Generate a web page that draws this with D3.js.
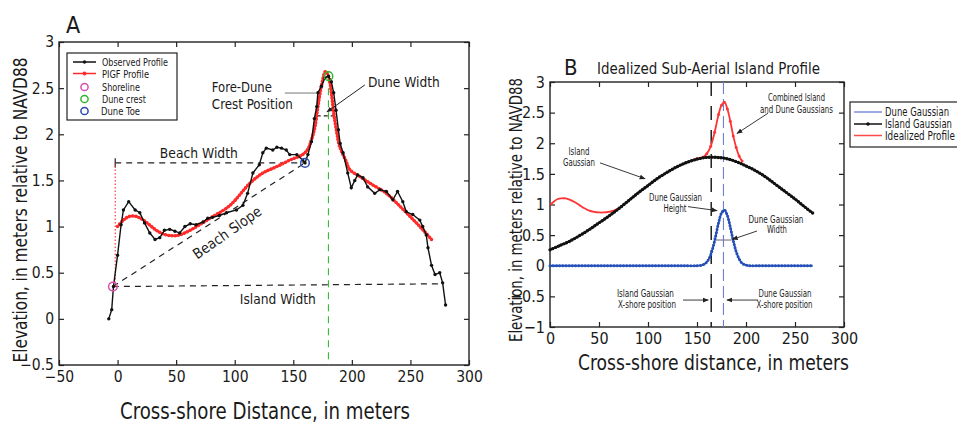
<!DOCTYPE html>
<html><head><meta charset="utf-8">
<script src="https://cdn.jsdelivr.net/npm/d3@7"></script>
<style>
html,body{margin:0;padding:0;background:#fff;overflow:hidden}
svg{display:block}
text{font-family:'Liberation Sans Narrow','DejaVu Sans Condensed','Roboto Condensed','Liberation Sans',Arial,sans-serif;fill:#1a1a1a}
</style></head><body>
<svg id="fig" width="957" height="423"></svg>
<script>
// ---------- Panel A: surveyed profile and its PIGF fit ----------
const observedProfile = [
  [-7.5,0.00],[-5,0.10],[-3.5,0.35],[0,0.69],[3,1.02],[5,1.18],[9.5,1.27],[15,1.18],[19,1.15],[23,1.04],
  [27.5,0.93],[32,0.86],[36,0.88],[40,0.96],[44.5,0.97],[49,0.95],[53,0.93],[57.5,1.00],[62,1.03],[67,1.02],
  [73,1.05],[77,1.09],[81,1.10],[87,1.12],[93,1.15],[101.5,1.18],[107,1.23],[111,1.36],[115.5,1.58],[121,1.67],
  [124,1.80],[127,1.85],[132.5,1.83],[136,1.86],[140,1.85],[144,1.83],[147,1.78],[153,1.78],[158,1.72],[160,1.69],
  [162.5,1.78],[165.5,1.92],[168,2.17],[170,2.30],[171,2.45],[174,2.52],[177,2.61],[180,2.63],[182.5,2.57],[184.5,2.45],
  [186.5,2.26],[188.5,2.05],[190,1.90],[192.5,1.80],[196.5,1.58],[199.5,1.42],[202.5,1.50],[205,1.56],[209.5,1.53],[213.5,1.43],
  [219.5,1.36],[224,1.40],[229.5,1.38],[235,1.29],[239,1.38],[243.5,1.27],[246.5,1.16],[252,1.13],[258,1.07],[260.5,1.00],
  [263.5,0.91],[265,0.77],[268,0.58],[271,0.48],[275,0.50],[277.5,0.39],[280,0.15]
];
const pigfProfile = [
  [0,1.00],[5,1.07],[10,1.11],[16,1.11],[22,1.07],[28,1.01],[33,0.96],[39,0.92],[46,0.90],[53,0.91],
  [62,0.96],[70,1.02],[79,1.09],[96,1.23],[113,1.47],[124,1.58],[136,1.65],[147,1.72],[158,1.78],[162.5,1.84],
  [165.5,1.94],[168.5,2.08],[171,2.30],[174,2.52],[177.5,2.68],[180,2.63],[182.5,2.45],[184.5,2.23],[187,2.03],[189.5,1.87],
  [195,1.71],[198,1.62],[207,1.54],[218,1.45],[229.5,1.36],[241,1.22],[252,1.08],[261,0.96],[268,0.86]
];
const shoreline = [-4, 0.35];
const duneCrest = [180, 2.63];
const duneToe = [160, 1.69];
const islandWidthEnd = [276.5, 0.38];
const duneWidthSpan = [170, 184, 2.2];
const ticksAx = [-50, 0, 50, 100, 150, 200, 250, 300];
const ticksAy = [-0.5, 0, 0.5, 1, 1.5, 2, 2.5, 3];
const legendA = ["Observed Profile", "PIGF Profile", "Shoreline", "Dune crest", "Dune Toe"];

// ---------- Panel B: idealized island built from two Gaussians ----------
const islandGaussX = [0,10,20,30,40,50,60,70,80,90,100,110,120,130,140,150,160,170,180,190,200,210,220,230,240,250,260,268];
const islandGaussY = [0.26,0.33,0.40,0.49,0.59,0.70,0.81,0.93,1.06,1.19,1.31,1.43,1.53,1.62,1.69,1.74,1.77,1.77,1.75,1.70,1.63,1.55,1.45,1.33,1.21,1.09,0.96,0.86];
const duneGaussX = [0,10,20,30,40,50,60,70,80,90,100,110,120,130,140,150,156,160,164,168,172,175,178,181,184,187,190,193,196,200,204,210,220,230,240,250,260,268];
const duneGaussY = [0,0,0,0,0,0,0,0,0,0,0,0,0,0,0,0,0.015,0.06,0.18,0.41,0.70,0.86,0.91,0.82,0.63,0.41,0.23,0.11,0.04,0.01,0,0,0,0,0,0,0,0];
const idealX = [0,4,8,12,16,20,25,30,35,40,45,50,55,60,65,70,80,90,100,110,120,130,140,150,156,160,164,168,172,175,178,181,184,187,190,193,196];
const idealY = [0.99,1.05,1.09,1.10,1.10,1.08,1.04,0.99,0.94,0.90,0.88,0.87,0.87,0.88,0.90,0.94,1.06,1.19,1.31,1.43,1.53,1.62,1.69,1.75,1.77,1.83,1.95,2.18,2.47,2.62,2.67,2.56,2.36,2.12,1.93,1.79,1.71];
const islandCenterX = 164.5;
const duneCenterX = 177;
const duneHalfWidth = [169.4, 185.4, 0.42];
const ticksBx = [0, 50, 100, 150, 200, 250, 300];
const ticksBy = [-1, -0.5, 0, 0.5, 1, 1.5, 2, 2.5, 3];
const legendB = ["Dune Gaussian", "Island Gaussian", "Idealized Profile"];

const svg = d3.select("#fig");
const defs = svg.append("defs");
defs.append("marker").attr("id", "arrow").attr("viewBox", "0 0 10 10")
  .attr("refX", 9).attr("refY", 5).attr("markerWidth", 6).attr("markerHeight", 6)
  .attr("markerUnits", "userSpaceOnUse").attr("orient", "auto")
  .append("path").attr("d", "M0,1L10,5L0,9Z").attr("fill", "#222");

function txt(g, s, x, y, size, o = {}) {
  const t = g.append("text").attr("x", x).attr("y", y).attr("font-size", size).text(s);
  if (o.anchor) t.attr("text-anchor", o.anchor);
  if (o.len) t.attr("textLength", o.len).attr("lengthAdjust", "spacingAndGlyphs");
  if (o.rotate !== undefined) t.attr("transform", `rotate(${o.rotate},${x},${y})`);
  if (o.fill) t.style("fill", o.fill);
  return t;
}

function boxAxes(g, x, y, tx, ty, fontSize) {
  const fmt = d3.format("");
  const [x0, x1] = x.range(), [y0, y1] = y.range();
  g.append("g").attr("transform", `translate(0,${y0})`)
    .call(d3.axisBottom(x).tickValues(tx).tickFormat(fmt).tickSizeInner(-5).tickSizeOuter(0).tickPadding(6));
  g.append("g").attr("transform", `translate(${x0},0)`)
    .call(d3.axisLeft(y).tickValues(ty).tickFormat(fmt).tickSizeInner(-5).tickSizeOuter(0).tickPadding(5));
  g.append("g").attr("transform", `translate(0,${y1})`)
    .call(d3.axisTop(x).tickValues(tx).tickFormat("").tickSizeInner(-5).tickSizeOuter(0));
  g.append("g").attr("transform", `translate(${x1},0)`)
    .call(d3.axisRight(y).tickValues(ty).tickFormat("").tickSizeInner(-5).tickSizeOuter(0));
  g.selectAll(".domain").remove();
  g.selectAll(".tick line").attr("stroke", "#222").attr("stroke-width", 1.2);
  g.selectAll(".tick text").attr("font-size", fontSize).attr("font-family", null).style("fill", "#1a1a1a");
  g.append("rect").attr("x", x0).attr("y", y1).attr("width", x1 - x0).attr("height", y0 - y1)
    .attr("fill", "none").attr("stroke", "#222").attr("stroke-width", 1.4);
}

function dots(g, d, color, w, gap) {
  g.append("path").attr("d", d).attr("fill", "none").attr("stroke", color)
    .attr("stroke-width", w).attr("stroke-linecap", "round").attr("stroke-dasharray", `0 ${gap}`);
}

// ================= Panel A =================
const xA = d3.scaleLinear().domain([-50, 300]).range([59, 469]);
const yA = d3.scaleLinear().domain([-0.5, 3]).range([365, 42]);
const gA = svg.append("g");
boxAxes(gA, xA, yA, ticksAx, ticksAy, 15.5);

const dashA = "6,5";
const seg = (g, p, q, stroke, w, dash) => g.append("line")
  .attr("x1", xA(p[0])).attr("y1", yA(p[1])).attr("x2", xA(q[0])).attr("y2", yA(q[1]))
  .attr("stroke", stroke).attr("stroke-width", w).attr("stroke-dasharray", dash || null);

// dune crest position
seg(gA, [duneCrest[0], duneCrest[1]], [duneCrest[0], -0.5], "#33bb33", 1.1, "7,5");
// beach width, beach slope, island width
seg(gA, [shoreline[0] + 2, duneToe[1]], duneToe, "#222", 1.2, dashA);
seg(gA, [shoreline[0] + 2, duneToe[1] - 0.05], [shoreline[0] + 2, duneToe[1] + 0.05], "#222", 1.2);
seg(gA, shoreline, duneToe, "#222", 1.2, dashA);
seg(gA, shoreline, islandWidthEnd, "#222", 1.2, dashA);
// shoreline reference (dotted)
seg(gA, [shoreline[0] + 2, shoreline[1]], [shoreline[0] + 2, duneToe[1]], "#ff3030", 1.1, "1.5,2");
// dune width
seg(gA, [duneWidthSpan[0], duneWidthSpan[2]], [duneWidthSpan[1], duneWidthSpan[2]], "#222", 1.2, "4,3");

const lineA = d3.line().x(d => xA(d[0])).y(d => yA(d[1]));
const smoothA = d3.line().x(d => xA(d[0])).y(d => yA(d[1])).curve(d3.curveCatmullRom);

// PIGF profile
const pigfD = smoothA(pigfProfile);
gA.append("path").attr("d", pigfD).attr("fill", "none").attr("stroke", "#ff2a2a").attr("stroke-width", 2.2);
dots(gA, pigfD, "#ff2a2a", 3.6, 3.2);

// observed profile
gA.append("path").attr("d", lineA(observedProfile)).attr("fill", "none").attr("stroke", "#111").attr("stroke-width", 1.4);
gA.selectAll("circle.obs").data(observedProfile).join("circle").attr("class", "obs")
  .attr("cx", d => xA(d[0])).attr("cy", d => yA(d[1])).attr("r", 1.7).attr("fill", "#111");

// feature markers
const feat = [[shoreline, "#d94fb0"], [duneCrest, "#2fb82f"], [duneToe, "#2a4bb0"]];
feat.forEach(([p, c]) => gA.append("circle").attr("cx", xA(p[0])).attr("cy", yA(p[1])).attr("r", 4.3)
  .attr("fill", "none").attr("stroke", c).attr("stroke-width", 1.5));

// annotation leaders
gA.append("line").attr("x1", xA(142.8)).attr("y1", yA(2.447)).attr("x2", xA(170.1)).attr("y2", yA(2.447))
  .attr("stroke", "#777").attr("stroke-width", 1);
gA.append("line").attr("x1", xA(211.1)).attr("y1", yA(2.535)).attr("x2", xA(178.7)).attr("y2", yA(2.242))
  .attr("stroke", "#222").attr("stroke-width", 1).attr("marker-end", "url(#arrow)");

txt(gA, "Fore-Dune", xA(80.5), yA(2.457), 14.5, { len: 60 });
txt(gA, "Crest Position", xA(80.5), yA(2.273), 14.5, { len: 81 });
txt(gA, "Dune Width", xA(213.7), yA(2.513), 14.5, { len: 72 });
txt(gA, "Beach Width", xA(36.1), yA(1.744), 14.5, { len: 78 });
txt(gA, "Island Width", xA(104.4), yA(0.161), 14.5, { len: 76 });
txt(gA, "Beach Slope", xA(96), yA(0.89), 14.5, { anchor: "middle", len: 80, rotate: -35 });

// legend
const lgA = gA.append("g");
lgA.append("rect").attr("x", 67).attr("y", 53).attr("width", 110).attr("height", 67)
  .attr("fill", "#fff").attr("stroke", "#222").attr("stroke-width", 1.2);
const lgY = [62, 73.5, 87, 99, 111];
const lgLen = [66, 47, 38, 44, 39];
lgA.append("line").attr("x1", 73).attr("x2", 96).attr("y1", lgY[0]).attr("y2", lgY[0]).attr("stroke", "#111").attr("stroke-width", 1.5);
lgA.append("circle").attr("cx", 84.5).attr("cy", lgY[0]).attr("r", 1.7).attr("fill", "#111");
lgA.append("line").attr("x1", 73).attr("x2", 96).attr("y1", lgY[1]).attr("y2", lgY[1]).attr("stroke", "#ff2a2a").attr("stroke-width", 1.5);
lgA.append("circle").attr("cx", 84.5).attr("cy", lgY[1]).attr("r", 1.9).attr("fill", "#ff2a2a");
feat.forEach(([p, c], i) => lgA.append("circle").attr("cx", 84.5).attr("cy", lgY[i + 2]).attr("r", 3.6)
  .attr("fill", "none").attr("stroke", c).attr("stroke-width", 1.5));
legendA.forEach((s, i) => txt(lgA, s, i === 4 ? 101 : 102, lgY[i] + 4, 10.5, { len: lgLen[i] }));

txt(svg, "A", 66, 33, 23);
txt(svg, "Elevation, in meters relative to NAVD88", 27, 210, 20, { anchor: "middle", len: 305, rotate: -90 });
txt(svg, "Cross-shore Distance, in meters", 265, 419, 22.5, { anchor: "middle", len: 290 });

// ================= Panel B =================
const xB = d3.scaleLinear().domain([0, 300]).range([550, 844]);
const yB = d3.scaleLinear().domain([-1, 3]).range([327, 82]);
const gB = svg.append("g");
boxAxes(gB, xB, yB, ticksBx, ticksBy, 16);

// Gaussian centre positions
gB.append("line").attr("x1", xB(islandCenterX)).attr("x2", xB(islandCenterX)).attr("y1", yB(3)).attr("y2", yB(-1))
  .attr("stroke", "#111").attr("stroke-width", 1.4).attr("stroke-dasharray", "14,10");
gB.append("line").attr("x1", xB(duneCenterX)).attr("x2", xB(duneCenterX)).attr("y1", yB(3)).attr("y2", yB(-1))
  .attr("stroke", "#6f7fd6").attr("stroke-width", 1.1).attr("stroke-dasharray", "12,5");

const lineB = d3.line().x(d => xB(d[0])).y(d => yB(d[1])).curve(d3.curveCatmullRom);
const zip = (xs, ys) => xs.map((v, i) => [v, ys[i]]);

// idealized profile
const idealPts = zip(idealX, idealY);
gB.append("path").attr("d", lineB(idealPts)).attr("fill", "none").attr("stroke", "#ff3434").attr("stroke-width", 1.8);
gB.selectAll("circle.ip").data(idealPts.filter(d => d[0] >= 150)).join("circle").attr("class", "ip")
  .attr("cx", d => xB(d[0])).attr("cy", d => yB(d[1])).attr("r", 1.5).attr("fill", "#ff3434");

// island Gaussian
const islD = lineB(zip(islandGaussX, islandGaussY));
gB.append("path").attr("d", islD).attr("fill", "none").attr("stroke", "#111").attr("stroke-width", 2);
dots(gB, islD, "#111", 3.4, 3);

// dune Gaussian
const duneD = lineB(zip(duneGaussX, duneGaussY));
gB.append("path").attr("d", duneD).attr("fill", "none").attr("stroke", "#2550b8").attr("stroke-width", 1.8);
dots(gB, duneD, "#2550b8", 3, 3.2);

// dune Gaussian width
gB.append("line").attr("x1", xB(duneHalfWidth[0])).attr("x2", xB(duneHalfWidth[1]))
  .attr("y1", yB(duneHalfWidth[2])).attr("y2", yB(duneHalfWidth[2])).attr("stroke", "#667").attr("stroke-width", 1);

// annotations
const arrowB = (a, b) => gB.append("line").attr("x1", xB(a[0])).attr("y1", yB(a[1]))
  .attr("x2", xB(b[0])).attr("y2", yB(b[1])).attr("stroke", "#222").attr("stroke-width", 0.9)
  .attr("marker-end", "url(#arrow)");
arrowB([51, 1.68], [97, 1.42]);
arrowB([222.4, 2.49], [190.8, 2.16]);
arrowB([140.8, 0.965], [170.5, 0.90]);
arrowB([211.2, 0.567], [186, 0.43]);
arrowB([135.7, -0.56], [161.5, -0.56]);
arrowB([212.2, -0.56], [180.5, -0.56]);

const aF = 10;
txt(gB, "Island", xB(29.6), yB(1.808), aF, { anchor: "middle", len: 21 });
txt(gB, "Gaussian", xB(29.6), yB(1.628), aF, { anchor: "middle", len: 32 });
txt(gB, "Combined Island", xB(251.5), yB(2.69), aF, { anchor: "middle", len: 57 });
txt(gB, "and Dune Gaussians", xB(251.5), yB(2.494), aF, { anchor: "middle", len: 73 });
txt(gB, "Dune Gaussian", xB(128.1), yB(1.057), aF, { anchor: "middle", len: 53 });
txt(gB, "Height", xB(127.6), yB(0.878), aF, { anchor: "middle", len: 23 });
txt(gB, "Dune Gaussian", xB(230.6), yB(0.698), aF, { anchor: "middle", len: 55 });
txt(gB, "Width", xB(231.6), yB(0.535), aF, { anchor: "middle", len: 20 });
txt(gB, "Island Gaussian", xB(97.4), yB(-0.51), aF, { anchor: "middle", len: 57 });
txt(gB, "X-shore position", xB(99), yB(-0.69), aF, { anchor: "middle", len: 58 });
txt(gB, "Dune Gaussian", xB(239.8), yB(-0.51), aF, { anchor: "middle", len: 53 });
txt(gB, "X-shore position", xB(239.3), yB(-0.69), aF, { anchor: "middle", len: 56 });

// legend (its box runs on past the right edge of the page)
const lgB = svg.append("g");
lgB.append("rect").attr("x", 850).attr("y", 102).attr("width", 140).attr("height", 45)
  .attr("fill", "#fff").attr("stroke", "#222").attr("stroke-width", 1.2);
const lbY = [112, 124, 135.5];
lgB.append("line").attr("x1", 854).attr("x2", 882).attr("y1", lbY[0]).attr("y2", lbY[0]).attr("stroke", "#5a72d0").attr("stroke-width", 1.2);
lgB.append("line").attr("x1", 854).attr("x2", 882).attr("y1", lbY[1]).attr("y2", lbY[1]).attr("stroke", "#111").attr("stroke-width", 1.5);
lgB.append("circle").attr("cx", 868).attr("cy", lbY[1]).attr("r", 1.8).attr("fill", "#111");
lgB.append("line").attr("x1", 854).attr("x2", 882).attr("y1", lbY[2]).attr("y2", lbY[2]).attr("stroke", "#ff4a4a").attr("stroke-width", 1.5);
const lbLen = [64, 67, 70];
legendB.forEach((s, i) => txt(lgB, s, 885, lbY[i] + 4.2, 12, { len: lbLen[i] }));

txt(svg, "B", 564, 75, 22);
txt(svg, "Idealized Sub-Aerial Island Profile", 597, 74, 16, { len: 223 });
txt(svg, "Elevation, in meters relative to NAVD88", 522, 210, 17.5, { anchor: "middle", len: 264, rotate: -90 });
txt(svg, "Cross-shore distance, in meters", 713.5, 370, 21, { anchor: "middle", len: 271 });
</script>
</body></html>
